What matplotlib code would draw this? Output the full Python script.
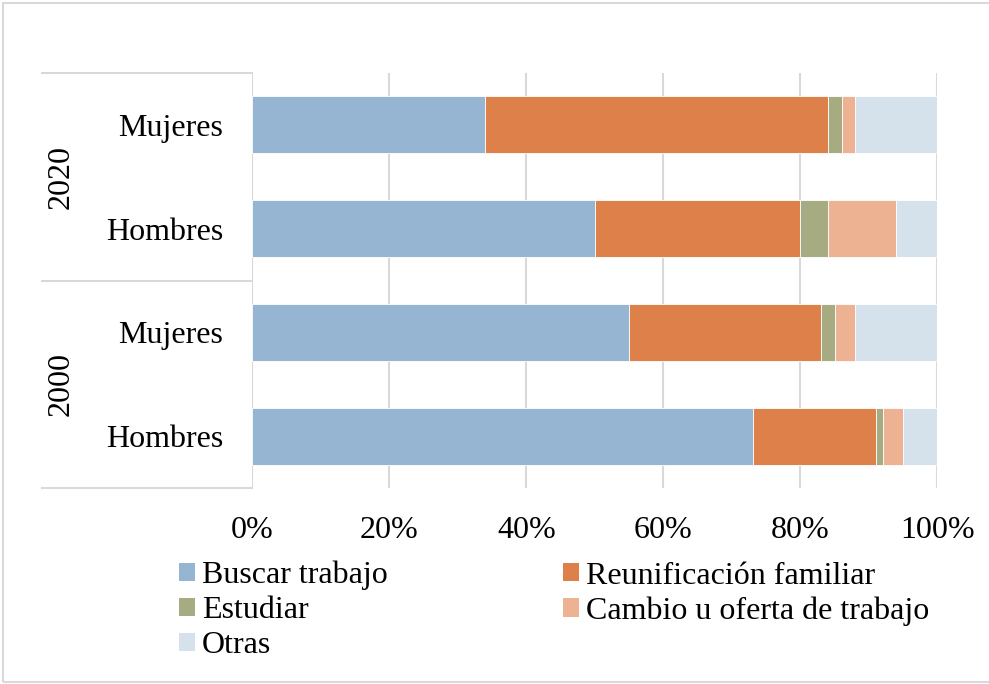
import matplotlib
matplotlib.use("Agg")
import matplotlib.pyplot as plt
from matplotlib.patches import Patch, Rectangle
from matplotlib.lines import Line2D
import numpy as np

plt.rcParams['font.family'] = ['Liberation Serif', 'DejaVu Serif']

# Data (bottom to top)
categories = ["Hombres", "Mujeres", "Hombres", "Mujeres"]
years = ["2000", "2020"]
series_names = ["Buscar trabajo", "Reunificación familiar", "Estudiar",
                "Cambio u oferta de trabajo", "Otras"]
buscar = [73, 55, 50, 34]
reunif = [18, 28, 30, 50]
estudiar = [1, 2, 4, 2]
cambio = [3, 3, 10, 2]
otras = [5, 12, 6, 12]
tick_vals = [0, 20, 40, 60, 80, 100]
tick_labels = ["0%", "20%", "40%", "60%", "80%", "100%"]

colors = ["#95B5D2", "#DD8049", "#A6AB82", "#ECB292", "#D5E2EC"]
FS = 23
GRID = "#D9D9D9"

L, R = 252.5, 937.5
fig = plt.figure(figsize=(9.89, 6.84), dpi=100)
ax = fig.add_axes([L/989, 1-488/684, (R-L)/989, (488-73)/684])

y = np.arange(len(categories))
left = np.zeros(len(categories))
all_series = [buscar, reunif, estudiar, cambio, otras]
for vals, c in zip(all_series, colors):
    vals = np.array(vals, dtype=float)
    ax.barh(y, vals, left=left, height=0.55, color=c, edgecolor="white",
            linewidth=0.6, zorder=3)
    left += vals

ax.set_xlim(0, 100)
ax.set_ylim(-0.5, len(categories) - 0.5)
ax.set_xticks(tick_vals)
ax.set_xticklabels(tick_labels, fontsize=FS)
ax.set_yticks(y)
ax.set_yticklabels(categories, fontsize=FS)
ax.tick_params(axis='x', length=0, pad=20)
ax.tick_params(axis='y', length=0, pad=21)
ax.grid(axis='x', color=GRID, linewidth=1.5, zorder=0)
for s in ax.spines.values():
    s.set_visible(False)

# Group box lines (axes fraction in x, data in y)
trans = ax.get_yaxis_transform()
x0 = (42 - L) / (R - L)
for yy in [-0.5, 1.5, 3.5]:
    ax.add_line(Line2D([x0, 0], [yy, yy], transform=trans, color=GRID,
                       linewidth=1.5, clip_on=False))
xy = (61 - L) / (R - L)
for i, yr in enumerate(years):
    ax.text(xy, 0.5 + 2 * i, yr, transform=trans, rotation=90,
            ha='center', va='center', fontsize=FS)

# Legend
handles = [Patch(facecolor=colors[i], edgecolor='none') for i in range(5)]
order = [0, 2, 4, 1, 3]
fig.legend([handles[i] for i in order], [series_names[i] for i in order],
           ncol=2, loc='upper left', bbox_to_anchor=(179/989, 1-561/684),
           frameon=False, fontsize=FS, handlelength=0.5, handleheight=0.5,
           handletextpad=0.22, columnspacing=5.5, labelspacing=0.18,
           borderpad=0, borderaxespad=0)

# Outer border
fig.add_artist(Rectangle((3/989, 2/684), 1.0, 1-5/684, transform=fig.transFigure,
                         fill=False, edgecolor=GRID, linewidth=1.5))

fig.savefig("out.png", dpi=100)
